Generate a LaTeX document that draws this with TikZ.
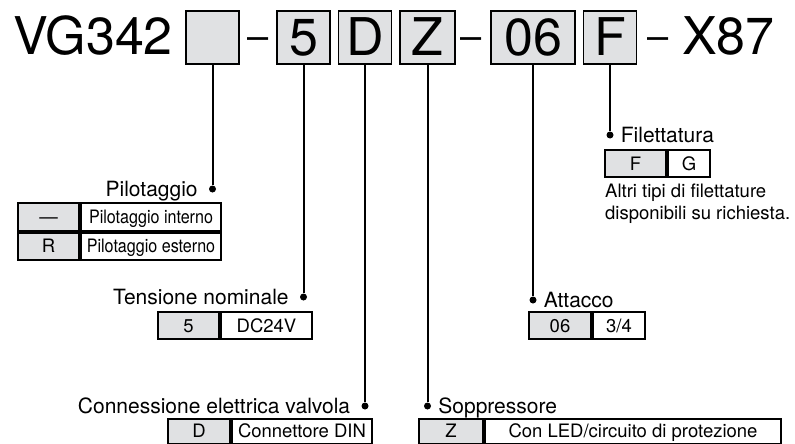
\documentclass[tikz,border=0pt]{standalone}
\usepackage{fontspec}
\setmainfont{TeX Gyre Heros}
\newfontfamily\narrowfont[FakeStretch=0.87]{TeX Gyre Heros}
\usetikzlibrary{positioning}
\definecolor{cellgray}{RGB}{224,225,227}

\begin{document}
\begin{tikzpicture}[x=1pt, y=-1pt,
    code/.style = {draw, line width=1.5pt, fill=cellgray, minimum width=53pt, minimum height=53pt, inner sep=0pt, text height=37pt, text depth=0pt, font=\fontsize{52}{60}\selectfont},
    big/.style = {inner sep=0pt, font=\fontsize{52}{60}\selectfont},
    hyph/.style = {inner sep=0pt, anchor=base, font=\fontsize{38}{44}\selectfont},
    dot/.style = {circle, fill, inner sep=0pt, minimum size=7pt},
    lbl/.style = {inner sep=0pt, text height=15pt, text depth=0pt, font=\fontsize{21}{25}\selectfont},
    gcell/.style = {draw, line width=2pt, fill=cellgray, minimum height=27pt, inner sep=0pt, text height=13pt, text depth=0pt, font=\fontsize{18.5}{22}\selectfont},
    wcell/.style = {gcell, fill=white},
    stem/.style = {line width=2pt}]
    \useasboundingbox (0,0) rectangle (795,444);

    % model code
    \node[big, anchor=base east] (vg) at (173,55) {VG342};
    \node[code] (b1) at (212.5,37.5) {};
    \node[hyph] (h1) at (258.5,49.5) {–};
    \node[code] (b5) at (303.5,37.5) {5};
    \node[code, right=7pt of b5] (bD) {D};
    \node[code, right=7pt of bD, minimum width=55pt] (bZ) {Z};
    \node[hyph] (h2) at (471.5,49.5) {–};
    \node[code, minimum width=84pt] (b06) at (533,37.5) {06};
    \node[code, right=7pt of b06] (bF) {F};
    \node[hyph] (h3) at (658,49.5) {–};
    \node[big, anchor=base west] (x87) at (682,55) {X87};

    % dots
    \node[dot] (dPil) at (b1 |- 0,189) {};
    \node[dot] (dTen) at (b5 |- 0,297) {};
    \node[dot] (dCon) at (bD |- 0,406) {};
    \node[dot] (dSop) at (bZ |- 0,406) {};
    \node[dot] (dAtt) at (b06 |- 0,300) {};
    \node[dot] (dFil) at (bF |- 0,135) {};

    \draw[stem] (b1) -- (dPil);
    \draw[stem] (b5) -- (dTen);
    \draw[stem] (bD) -- (dCon);
    \draw[stem] (bZ) -- (dSop);
    \draw[stem] (b06) -- (dAtt);
    \draw[stem] (bF) -- (dFil);

    % labels
    \node[lbl, left=11pt of dPil] (lPil) {Pilotaggio};
    \node[lbl, left=11pt of dTen] (lTen) {Tensione nominale};
    \node[lbl, left=11pt of dCon] (lCon) {Connessione elettrica valvola};
    \node[lbl, right=7pt of dSop] (lSop) {Soppressore};
    \node[lbl, right=7pt of dAtt] (lAtt) {Attacco};
    \node[lbl, right=7pt of dFil] (lFil) {Filettatura};

    % tables
    \node[gcell, anchor=north west, minimum width=61pt, minimum height=27.5pt] (gPil1) at (17,202) {—};
    \node[wcell, right=0pt of gPil1, minimum width=140pt, minimum height=27.5pt] (wPil1) {\narrowfont Pilotaggio interno};
    \node[gcell, below=0pt of gPil1, minimum width=61pt, minimum height=27.5pt] (gPil2) {R};
    \node[wcell, right=0pt of gPil2, minimum width=140pt, minimum height=27.5pt] (wPil2) {\narrowfont Pilotaggio esterno};

    \node[gcell, anchor=north west, minimum width=61pt] (gTen) at (157,311) {5};
    \node[wcell, right=0pt of gTen, minimum width=91pt] (wTen) {DC24V};

    \node[gcell, anchor=north west, minimum width=62pt, minimum height=25.5pt] (gCon) at (167,417.5) {D};
    \node[wcell, right=0pt of gCon, minimum width=140pt, minimum height=25.5pt] (wCon) {Connettore DIN};

    \node[gcell, anchor=north west, minimum width=64pt, minimum height=25.5pt] (gSop) at (418,417.5) {Z};
    \node[wcell, right=0pt of gSop, minimum width=296pt, minimum height=25.5pt] (wSop) {Con LED/circuito di protezione};

    \node[gcell, anchor=north west, minimum width=62pt] (gAtt) at (528,311) {06};
    \node[wcell, right=0pt of gAtt, minimum width=52pt] (wAtt) {3/4};

    \node[gcell, anchor=north west, minimum width=61pt] (gFil) at (604,149) {F};
    \node[wcell, right=0pt of gFil, minimum width=42pt] (wFil) {G};
    \node[anchor=north west, inner sep=0pt, align=left, font=\fontsize{18.5}{22}\selectfont] (nFil) at (605,184) {Altri tipi di filettature\\disponibili su richiesta.};
\end{tikzpicture}
\end{document}
